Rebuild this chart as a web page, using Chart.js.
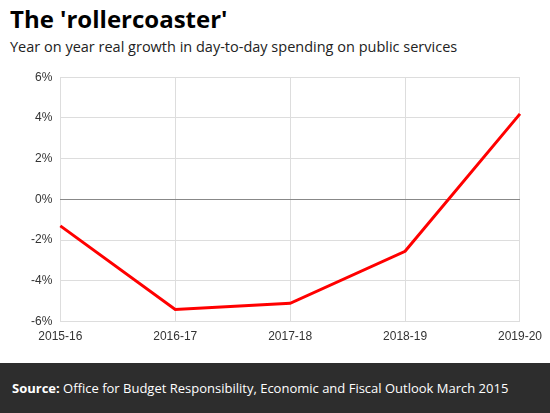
<!DOCTYPE html>
<html><head><meta charset="utf-8">
<script src="https://cdn.jsdelivr.net/npm/chart.js@4"></script>
<style>
body{margin:0;width:550px;height:413px;background:#fff;font-family:"Open Sans",sans-serif;position:relative;overflow:hidden}
#t{position:absolute;left:10px;top:2px;font-size:24px;font-weight:bold;color:#000}
#s{position:absolute;left:10px;top:37px;font-size:14.5px;color:#222}
#c{position:absolute;left:0;top:62px;width:550px;height:290px}
#f{position:absolute;left:0;top:363px;width:550px;height:50px;background:#2d2d2d;color:#fff;font-size:13px;line-height:50px;padding-left:12px;box-sizing:border-box}
</style></head><body>
<div id="t">The 'rollercoaster'</div>
<div id="s">Year on year real growth in day-to-day spending on public services</div>
<div id="c"><canvas id="cv"></canvas></div>
<div id="f"><b>Source:</b> Office for Budget Responsibility, Economic and Fiscal Outlook March 2015</div>
<script>
const categories=["2015-16","2016-17","2017-18","2018-19","2019-20"];
const growth=[-1.3,-5.4,-5.1,-2.55,4.2];
new Chart(document.getElementById('cv'),{type:'line',
data:{labels:categories,datasets:[{data:growth,borderColor:'#ff0000',borderWidth:3,pointRadius:0,tension:0}]},
options:{responsive:true,maintainAspectRatio:false,animation:false,
layout:{padding:{left:23,right:10,top:6,bottom:0}},
plugins:{legend:{display:false},tooltip:{enabled:false}},
scales:{x:{offset:false,grid:{color:'#dddddd',drawTicks:false},border:{display:false},ticks:{color:'#333',font:{size:12},padding:8,maxRotation:0}},
y:{min:-6,max:6,grid:{color:c=>c.tick.value===0?'#888':'#dddddd',drawTicks:false},border:{display:false},ticks:{stepSize:2,color:'#333',font:{size:12},padding:8,callback:v=>v+'%'}}}}});
</script></body></html>
